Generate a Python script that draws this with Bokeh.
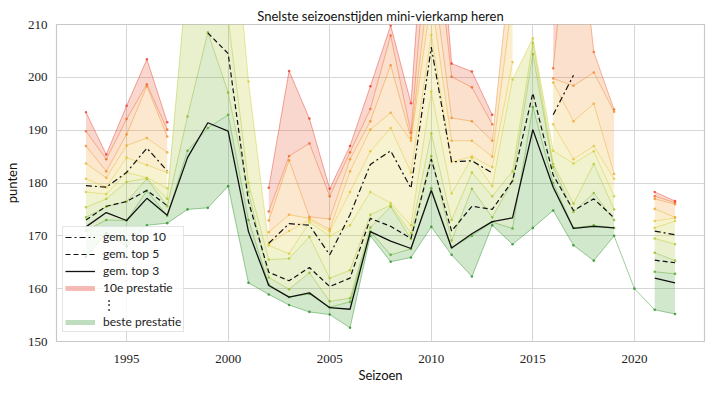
import numpy as np
from bokeh.plotting import figure
from bokeh.models import Legend, LegendItem, Range1d, FixedTicker
from bokeh.embed import file_html
from bokeh.resources import INLINE

nan = float("nan")

seasons = list(range(1993, 2023))

# performances per season, rank 1 (best) .. rank 10
rank1 = [166.0, 170.5, 168.0, 172.0, 172.4, 175.0, 175.3, 179.4, 161.1, 158.9,
         156.9, 155.6, 155.1, 152.6, 170.0, 165.1, 165.9, 171.7, 166.4, 162.3,
         172.0, 168.4, 171.5, 174.8, 168.2, 165.3, 170.0, 160.0, 156.0, 155.2]
rank2 = [171.0, 173.0, 172.9, 178.5, 173.8, 186.1, 190.4, 192.9, 173.0, 160.8,
         158.4, 159.0, 156.5, 157.5, 170.8, 166.4, 167.5, 179.0, 167.8, 170.0,
         172.6, 171.4, 194.4, 180.0, 171.5, 172.0, 171.5, nan, 163.2, 162.8]
rank3 = [173.5, 175.5, 176.5, 180.8, 175.6, 192.6, 208.5, 197.1, 178.3, 162.1,
         159.9, 163.0, 157.6, 158.2, 171.6, 175.5, 169.4, 185.1, 169.1, 178.9,
         173.5, 180.4, 204.4, 183.0, 174.5, 178.1, 173.0, nan, 166.8, 165.3]
rank4 = [175.4, 177.0, 180.2, 180.9, 177.0, 220.0, 228.0, 211.2, 180.0, 165.5,
         165.7, 169.8, 162.0, 163.5, 174.0, 175.8, 170.5, 189.4, 173.0, 182.0,
         177.5, 182.2, 206.5, 183.6, 176.1, 183.6, 175.0, nan, 169.5, 168.4]
rank5 = [178.3, 177.9, 182.0, 181.0, 179.0, nan, 240.0, 241.9, 199.2, 168.2,
         166.6, 172.6, 170.0, 172.0, 178.3, 176.2, 172.0, 197.3, 178.0, 184.8,
         179.4, 199.6, 207.4, 186.1, 183.7, 186.0, 177.5, nan, 171.5, 172.8]
rank6 = [180.8, 179.2, 184.8, 183.4, 182.0, nan, nan, nan, nan, 168.5,
         170.9, 173.0, 170.8, 178.3, 186.0, 190.4, 182.0, 208.0, 184.0, 185.0,
         183.0, 202.9, nan, 191.1, 184.5, 187.0, 180.8, nan, 172.8, 173.4]
rank7 = [183.7, 181.0, 187.1, 188.5, 185.8, nan, nan, nan, nan, 170.7,
         174.0, 173.3, 171.2, 182.2, 190.1, 193.3, 188.0, 215.0, 188.0, 188.0,
         185.0, 215.0, nan, 199.0, 191.7, 195.0, 181.7, nan, 175.1, 173.5]
rank8 = [187.0, 182.2, 189.2, 198.3, 188.8, nan, nan, nan, nan, 172.9,
         184.3, 173.6, 173.2, 184.5, 191.7, 202.3, 188.5, 222.0, 192.3, 191.7,
         188.0, 225.0, nan, 199.8, 198.4, 200.9, 193.5, nan, 177.0, 176.0]
rank9 = [189.8, 184.5, 192.1, 198.7, 190.1, nan, nan, nan, nan, 174.6,
         185.1, 187.5, 177.5, 185.8, 194.0, 207.9, 189.5, 235.0, 200.1, 198.1,
         191.1, nan, nan, 201.7, 240.0, 204.8, 193.9, nan, 177.5, 176.3]
rank10 = [193.4, 185.4, 194.6, 203.4, 191.5, nan, nan, nan, nan, 179.1,
          201.2, 192.2, 178.9, 187.0, 198.3, 209.8, 195.1, 250.0, 202.6, 201.1,
          192.9, nan, nan, 225.0, 260.0, nan, nan, nan, 178.3, 176.6]

# season averages
avg_top3 = [171.7, 174.4, 172.9, 177.1, 173.9, 184.8, 191.4, 189.8, 170.8, 160.6,
            158.4, 159.2, 156.4, 156.1, 170.8, 169.0, 167.6, 178.6, 167.7, 170.4,
            172.7, 173.4, 190.1, 179.2, 171.4, 171.8, 171.5, nan, 162.0, 161.1]
avg_top5 = [173.0, 175.6, 176.5, 178.6, 175.7, nan, 208.4, 204.5, 176.5, 163.1,
            161.5, 164.0, 160.4, 162.0, 173.3, 171.8, 169.5, 184.5, 170.9, 175.6,
            175.0, 180.4, 197.0, 181.5, 174.8, 177.0, 173.4, nan, 165.4, 164.9]
avg_top10 = [179.5, 179.2, 182.0, 186.6, 182.3, nan, nan, nan, nan, 168.6,
             172.3, 172.0, 166.4, 174.0, 183.5, 186.1, 179.0, 205.7, 184.0, 184.2,
             181.9, nan, nan, 192.9, 200.4, nan, nan, nan, 170.9, 170.2]

title_text = "Snelste seizoenstijden mini-vierkamp heren"
x_ticks = [1995, 2000, 2005, 2010, 2015, 2020]
y_ticks = [150, 160, 170, 180, 190, 200, 210]

ranks = [rank1, rank2, rank3, rank4, rank5, rank6, rank7, rank8, rank9, rank10]

rank_colors = [
    (40, 145, 40), (85, 165, 40), (140, 185, 45), (180, 198, 45), (210, 205, 50),
    (228, 195, 50), (236, 170, 45), (240, 140, 40), (238, 105, 40), (232, 60, 45),
]


def hexc(c):
    return "#%02x%02x%02x" % tuple(int(round(v)) for v in c)


line_cols = [hexc(c) for c in rank_colors]
band_cols = [hexc(tuple((a + b) / 2 for a, b in zip(rank_colors[k], rank_colors[k + 1])))
             for k in range(9)]

p = figure(width=706, height=385,
           x_range=Range1d(1991.55, 2023.45), y_range=Range1d(150, 210),
           output_backend="svg", toolbar_location=None,
           min_border_left=47, min_border_right=2, min_border_top=24, min_border_bottom=41,
           title=title_text)

p.title.align = "center"
p.title.text_font = "Lato"
p.title.text_font_size = "13px"
p.title.text_font_style = "normal"
p.title.text_color = "#111111"
p.title.standoff = 2

p.outline_line_color = "#c8c8c8"
p.outline_line_width = 1.2
p.background_fill_color = "white"

p.xgrid.ticker = FixedTicker(ticks=x_ticks)
p.ygrid.ticker = FixedTicker(ticks=y_ticks)
p.grid.grid_line_color = "#d6d6d6"
p.grid.grid_line_width = 1
for ax, tk in ((p.xaxis[0], x_ticks), (p.yaxis[0], y_ticks)):
    ax.ticker = FixedTicker(ticks=tk)
    ax.axis_line_color = None
    ax.major_tick_line_color = None
    ax.minor_tick_line_color = None
    ax.major_tick_out = 0
    ax.major_tick_in = 0
    ax.minor_tick_out = 0
    ax.minor_tick_in = 0
    ax.major_label_text_font = "Liberation Serif"
    ax.major_label_text_font_size = "13px"
    ax.major_label_text_color = "#222222"
    ax.axis_label_text_font = "Lato"
    ax.axis_label_text_font_size = "13px"
    ax.axis_label_text_font_style = "normal"
    ax.axis_label_text_color = "#111111"
p.xaxis[0].major_label_standoff = 13
p.xaxis[0].axis_label_standoff = 1
p.yaxis[0].major_label_standoff = 9
p.yaxis[0].axis_label_standoff = 5
p.xaxis[0].axis_label = "Seizoen"
p.yaxis[0].axis_label = "punten"

xs = np.array(seasons, dtype=float)

# filled bands between consecutive ranks
for k in range(9):
    lo = np.array(ranks[k], dtype=float)
    hi = np.array(ranks[k + 1], dtype=float)
    ok = np.isfinite(lo) & np.isfinite(hi)
    start = None
    for i in range(len(xs) + 1):
        good = i < len(xs) and ok[i]
        if good and start is None:
            start = i
        elif not good and start is not None:
            if i - start >= 2:
                p.varea(x=xs[start:i], y1=lo[start:i], y2=hi[start:i],
                        fill_color=band_cols[k], fill_alpha=0.23)
            start = None

# rank lines
for k in range(10):
    ys = np.array(ranks[k], dtype=float)
    p.line(xs, ys, line_color=line_cols[k], line_width=0.9, line_alpha=0.5)
    p.scatter(xs, ys, size=2.6, fill_color=line_cols[k], line_color=None, fill_alpha=0.8)

r10 = p.line(xs, np.array(avg_top10, dtype=float), line_color="#111111", line_width=1.2,
             line_dash="6 3 2 3")
r5 = p.line(xs, np.array(avg_top5, dtype=float), line_color="#111111", line_width=1.2,
            line_dash="5 3")
r3 = p.line(xs, np.array(avg_top3, dtype=float), line_color="#111111", line_width=1.3)

leg_red = p.line([nan], [nan], line_color=hexc(rank_colors[9]), line_width=5, line_alpha=0.35)
leg_dots = p.line([nan], [nan], line_alpha=0)
leg_green = p.line([nan], [nan], line_color=hexc(rank_colors[0]), line_width=5, line_alpha=0.3)

legend = Legend(items=[
    LegendItem(label="gem. top 10", renderers=[r10]),
    LegendItem(label="gem. top 5", renderers=[r5]),
    LegendItem(label="gem. top 3", renderers=[r3]),
    LegendItem(label="10e prestatie", renderers=[leg_red]),
    LegendItem(label="\u22ee", renderers=[leg_dots]),
    LegendItem(label="beste prestatie", renderers=[leg_green]),
], location=(6, 9))
legend.label_text_font = "Lato"
legend.label_text_font_size = "12px"
legend.label_text_color = "#222222"
legend.glyph_width = 30
legend.glyph_height = 14
legend.label_height = 14
legend.label_standoff = 8
legend.spacing = 2
legend.padding = 2
legend.margin = 0
legend.border_line_color = "#cccccc"
legend.background_fill_alpha = 0.8
p.add_layout(legend)

open("out.html", "w").write(file_html(p, INLINE))
